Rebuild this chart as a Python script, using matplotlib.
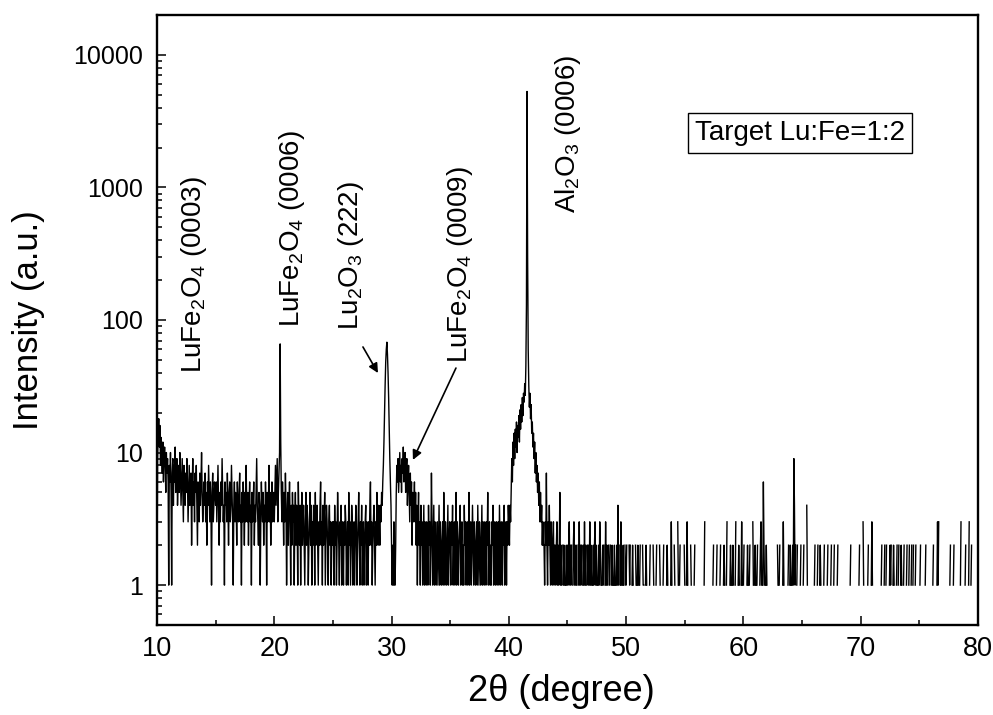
import numpy as np
import matplotlib
matplotlib.use('Agg')
import matplotlib.pyplot as plt
from matplotlib.ticker import MultipleLocator, LogLocator, FixedLocator, FuncFormatter, NullFormatter

plt.rcParams['font.family'] = ['Liberation Sans', 'DejaVu Sans']
plt.rcParams['mathtext.fontset'] = 'custom'
plt.rcParams['mathtext.rm'] = 'Liberation Sans'
plt.rcParams['mathtext.it'] = 'Liberation Sans:italic'
plt.rcParams['mathtext.bf'] = 'Liberation Sans:bold'

# ── XRD scan: 2theta from 10 deg, step 0.05 deg, counts ──
# one list per 5 degrees (100 steps each); 0 counts leave a gap on the log axis
TWO_THETA_START = 10.0
STEP = 0.05

counts_10 = [1, 9, 14, 18, 11, 16, 8, 13, 10, 7, 12, 6, 9, 11, 8, 5, 10, 7, 9, 6,
             1, 8, 6, 10, 5, 1, 7, 9, 4, 8, 6, 11, 5, 7, 9, 4, 6, 8, 5, 10,
             7, 4, 6, 9, 5, 3, 8, 6, 4, 7, 5, 9, 6, 3, 5, 8, 4, 6, 7, 2,
             5, 9, 4, 6, 3, 7, 5, 8, 4, 2, 6, 5, 3, 7, 4, 6, 10, 5, 3, 4,
             6, 4, 7, 3, 5, 2, 6, 4, 8, 5, 3, 6, 4, 1, 5, 7, 3, 4, 6, 5]
counts_15 = [4, 6, 3, 5, 8, 4, 2, 5, 3, 6, 4, 9, 5, 3, 4, 1, 6, 4, 5, 3,
             7, 4, 2, 5, 6, 3, 4, 8, 5, 3, 1, 4, 6, 3, 5, 4, 2, 6, 4, 3,
             5, 7, 3, 4, 1, 5, 3, 6, 4, 2, 5, 3, 8, 4, 3, 5, 2, 4, 6, 3,
             4, 1, 5, 3, 4, 6, 2, 4, 3, 5, 9, 4, 3, 2, 5, 4, 1, 3, 6, 4,
             3, 5, 2, 4, 3, 6, 4, 1, 5, 3, 4, 8, 3, 5, 2, 4, 6, 3, 4, 5]
counts_20 = [3, 5, 8, 4, 6, 9, 3, 5, 7, 10, 66, 12, 5, 3, 6, 4, 2, 5, 3, 7,
             4, 1, 3, 5, 2, 4, 6, 3, 1, 4, 2, 5, 3, 4, 1, 3, 5, 2, 4, 3,
             1, 6, 3, 2, 4, 1, 3, 5, 2, 3, 4, 2, 1, 3, 5, 2, 4, 3, 1, 2,
             3, 5, 2, 4, 1, 3, 2, 4, 3, 1, 5, 2, 3, 4, 2, 1, 3, 2, 4, 6,
             2, 3, 1, 4, 2, 3, 5, 1, 2, 4, 3, 2, 1, 3, 4, 2, 3, 1, 2, 3]
counts_25 = [2, 3, 1, 4, 2, 3, 1, 2, 5, 3, 2, 1, 3, 2, 4, 1, 3, 2, 1, 3,
             2, 4, 3, 1, 2, 3, 1, 5, 2, 3, 1, 2, 4, 3, 1, 2, 3, 1, 2, 4,
             3, 1, 2, 3, 5, 2, 1, 3, 2, 4, 1, 2, 3, 1, 2, 3, 4, 1, 3, 2,
             1, 3, 2, 4, 6, 2, 3, 1, 2, 3, 4, 2, 1, 3, 2, 5, 3, 2, 4, 3,
             2, 4, 3, 5, 4, 6, 8, 12, 20, 32, 48, 60, 68, 55, 40, 26, 15, 9, 6, 4]
counts_30 = [2, 1, 2, 1, 3, 1, 1, 2, 5, 8, 6, 9, 5, 7, 10, 6, 8, 5, 9, 7,
             11, 6, 8, 10, 5, 7, 9, 4, 6, 8, 5, 3, 7, 4, 6, 2, 5, 3, 4, 6,
             3, 5, 2, 4, 1, 3, 5, 2, 3, 1, 4, 2, 3, 1, 2, 4, 1, 3, 2, 1,
             3, 2, 1, 4, 2, 3, 1, 2, 7, 3, 1, 2, 4, 1, 3, 2, 1, 2, 3, 1,
             2, 4, 1, 3, 2, 1, 2, 3, 1, 5, 2, 1, 3, 2, 1, 2, 4, 1, 2, 3]
counts_35 = [2, 1, 3, 2, 4, 1, 2, 3, 1, 2, 5, 1, 3, 2, 1, 2, 3, 4, 1, 2,
             3, 1, 2, 1, 4, 2, 3, 1, 2, 3, 1, 2, 5, 1, 2, 3, 1, 2, 4, 2,
             1, 3, 2, 1, 2, 3, 1, 4, 2, 1, 3, 2, 1, 2, 4, 1, 3, 2, 1, 3,
             2, 1, 3, 2, 5, 1, 2, 3, 1, 2, 1, 3, 2, 4, 1, 2, 3, 1, 2, 3,
             1, 2, 3, 1, 4, 2, 1, 3, 2, 1, 3, 2, 4, 1, 2, 3, 1, 3, 2, 4]
counts_40 = [3, 2, 4, 3, 5, 9, 6, 12, 8, 14, 9, 15, 11, 17, 10, 16, 13, 19, 12, 21,
             15, 23, 17, 26, 19, 28, 24, 33, 27, 45, 130, 5300, 300, 60, 32, 22, 28, 18, 23, 14,
             17, 11, 14, 9, 12, 7, 10, 6, 8, 5, 7, 4, 6, 3, 5, 3, 4, 2, 3, 2,
             2, 1, 3, 2, 7, 2, 1, 3, 2, 4, 2, 1, 3, 2, 1, 2, 3, 1, 2, 2,
             1, 2, 3, 1, 2, 1, 2, 5, 1, 2, 1, 0, 2, 1, 2, 1, 0, 1, 2, 1]
counts_45 = [2, 1, 2, 3, 1, 2, 1, 2, 0, 1, 2, 3, 1, 2, 1, 2, 1, 0, 2, 1,
             3, 1, 2, 1, 2, 0, 1, 2, 1, 3, 1, 2, 1, 0, 2, 1, 2, 1, 3, 1,
             2, 1, 0, 1, 2, 1, 2, 3, 1, 2, 1, 0, 1, 2, 1, 3, 2, 1, 0, 1,
             2, 1, 2, 0, 1, 3, 1, 2, 1, 0, 2, 1, 1, 2, 0, 1, 2, 1, 0, 1,
             2, 1, 0, 1, 2, 1, 4, 1, 2, 0, 1, 3, 1, 0, 1, 2, 1, 0, 2, 1]
counts_50 = [1, 2, 0, 1, 0, 2, 1, 2, 0, 0, 1, 2, 1, 0, 1, 0, 2, 1, 0, 1,
             2, 1, 0, 1, 2, 0, 1, 0, 2, 1, 1, 0, 0, 1, 2, 1, 0, 1, 0, 0,
             1, 2, 0, 1, 0, 0, 2, 1, 0, 1, 0, 1, 2, 0, 0, 1, 0, 2, 1, 0,
             0, 1, 0, 1, 2, 0, 1, 0, 0, 1, 2, 1, 0, 0, 1, 0, 1, 3, 1, 0,
             1, 0, 2, 1, 0, 0, 1, 0, 3, 1, 0, 1, 2, 0, 0, 1, 0, 1, 0, 2]
counts_55 = [1, 0, 0, 1, 3, 1, 0, 1, 0, 0, 2, 1, 0, 1, 0, 0, 1, 2, 0, 0,
             1, 0, 0, 0, 1, 0, 0, 0, 0, 1, 0, 0, 0, 1, 3, 0, 0, 0, 1, 0,
             0, 1, 0, 0, 0, 1, 0, 0, 1, 2, 0, 0, 1, 0, 1, 2, 0, 0, 1, 0,
             1, 2, 0, 0, 1, 0, 1, 2, 1, 0, 0, 1, 3, 0, 1, 0, 0, 1, 2, 1,
             0, 1, 2, 1, 0, 0, 1, 3, 0, 1, 0, 1, 2, 1, 0, 0, 1, 3, 1, 0]
counts_60 = [1, 2, 0, 0, 1, 0, 1, 2, 1, 0, 1, 2, 0, 1, 0, 0, 3, 1, 0, 1,
             2, 1, 0, 1, 2, 0, 1, 0, 1, 2, 3, 1, 0, 1, 6, 2, 1, 0, 1, 2,
             1, 0, 0, 0, 1, 0, 0, 0, 0, 0, 1, 0, 0, 0, 0, 1, 0, 0, 2, 1,
             0, 1, 2, 0, 0, 1, 0, 1, 3, 1, 0, 0, 0, 1, 0, 0, 1, 2, 0, 1,
             2, 1, 0, 1, 2, 1, 9, 4, 1, 2, 0, 1, 2, 0, 0, 1, 0, 1, 2, 0]
counts_65 = [1, 0, 1, 2, 0, 0, 1, 0, 4, 1, 0, 0, 1, 0, 0, 0, 0, 0, 1, 0,
             0, 1, 2, 0, 1, 0, 1, 2, 0, 0, 1, 2, 1, 0, 0, 1, 0, 1, 2, 0,
             1, 0, 0, 1, 2, 0, 0, 1, 0, 1, 2, 0, 0, 0, 1, 2, 0, 0, 1, 0,
             1, 2, 0, 0, 1, 0, 0, 0, 0, 0, 1, 0, 0, 0, 0, 0, 0, 0, 1, 0,
             0, 0, 1, 2, 0, 0, 0, 0, 0, 0, 0, 0, 0, 0, 0, 0, 0, 1, 2, 0]
counts_70 = [0, 1, 0, 0, 3, 1, 0, 0, 1, 0, 0, 0, 1, 2, 0, 0, 0, 0, 1, 3,
             1, 0, 0, 0, 1, 0, 0, 0, 0, 0, 0, 0, 0, 0, 0, 1, 2, 0, 0, 0,
             1, 2, 0, 1, 2, 0, 1, 0, 0, 1, 2, 1, 2, 0, 0, 1, 2, 1, 0, 0,
             0, 1, 2, 0, 1, 2, 0, 0, 1, 2, 1, 0, 0, 1, 2, 0, 0, 0, 1, 2,
             0, 0, 1, 2, 0, 0, 1, 2, 0, 1, 2, 0, 0, 1, 2, 0, 0, 1, 0, 0]
counts_75 = [0, 1, 2, 0, 0, 0, 0, 0, 0, 0, 1, 2, 0, 0, 0, 0, 0, 0, 0, 0,
             0, 0, 0, 1, 2, 0, 0, 0, 0, 0, 1, 3, 1, 3, 0, 0, 0, 0, 0, 0,
             0, 0, 0, 0, 0, 0, 0, 0, 0, 0, 0, 0, 1, 2, 0, 0, 0, 0, 1, 2,
             0, 0, 0, 0, 0, 0, 0, 0, 0, 0, 1, 3, 0, 0, 0, 0, 0, 0, 1, 2,
             0, 0, 0, 0, 1, 3, 0, 0, 1, 2, 0, 0, 0, 0, 0, 0, 0, 0, 0, 0]
counts_80 = [0]

peak_labels = ['LuFe$_2$O$_4$ (0003)', 'LuFe$_2$O$_4$ (0006)', 'Lu$_2$O$_3$ (222)',
               'LuFe$_2$O$_4$ (0009)', 'Al$_2$O$_3$ (0006)']
note_text = 'Target Lu:Fe=1:2'


counts = np.array(counts_10 + counts_15 + counts_20 + counts_25 + counts_30 +
                  counts_35 + counts_40 + counts_45 + counts_50 + counts_55 +
                  counts_60 + counts_65 + counts_70 + counts_75 + counts_80, dtype=float)
two_theta = TWO_THETA_START + STEP * np.arange(len(counts))
intensity = np.where(counts > 0, counts, np.nan)   # log axis: zero counts -> gap

fig = plt.figure(figsize=(9.93, 7.15), dpi=100, facecolor='white')
ax = fig.add_axes([0.1581, 0.1259, 0.8268, 0.8531])

ax.plot(two_theta, intensity, color='black', lw=1.0)

ax.set_yscale('log')
ax.set_xlim(10, 80)
ax.set_ylim(0.5, 2e4)

ax.xaxis.set_major_locator(MultipleLocator(10))
ax.xaxis.set_minor_locator(MultipleLocator(5))
ax.yaxis.set_major_locator(FixedLocator([1, 10, 100, 1000, 10000]))
ax.yaxis.set_major_formatter(FuncFormatter(lambda v, p: f'{v:g}'))
ax.yaxis.set_minor_locator(LogLocator(base=10, subs=np.arange(2, 10)))
ax.yaxis.set_minor_formatter(NullFormatter())

ax.tick_params(which='both', direction='in', top=False, right=False, width=1.1)
ax.tick_params(which='major', length=6.5)
ax.tick_params(which='minor', length=3.6)
ax.tick_params(axis='x', labelsize=19.5, pad=8)
ax.tick_params(axis='y', labelsize=18, pad=10)
for s in ax.spines.values():
    s.set_linewidth(1.7)

ax.set_xlabel('2θ (degree)', fontsize=26)
ax.xaxis.set_label_coords(0.493, -0.08)
ax.set_ylabel('Intensity (a.u.)', fontsize=25)
ax.yaxis.set_label_coords(-0.136, 0.5)

# peak labels (rotated, anchored at their lower end)
label_xy = [(13.15, 39.8), (21.47, 88.6), (26.5, 84), (35.83, 47.3), (45.08, 642)]
for txt, (lx, ly) in zip(peak_labels, label_xy):
    ax.text(lx, ly, txt, rotation=90, ha='center', va='bottom', fontsize=20)

arrow = dict(arrowstyle='-|>', color='black', lw=1.2, shrinkA=0, shrinkB=0,
             mutation_scale=14)
ax.annotate('', xy=(28.84, 39.8), xytext=(27.56, 62.6), arrowprops=arrow)
ax.annotate('', xy=(31.82, 8.8), xytext=(35.49, 43.4), arrowprops=arrow)

ax.text(64.8, 2580, note_text, ha='center', va='center', fontsize=20,
        bbox=dict(boxstyle='square,pad=0.25', facecolor='white',
                  edgecolor='black', lw=1.0))

fig.savefig('out.png', dpi=100, facecolor='white')
